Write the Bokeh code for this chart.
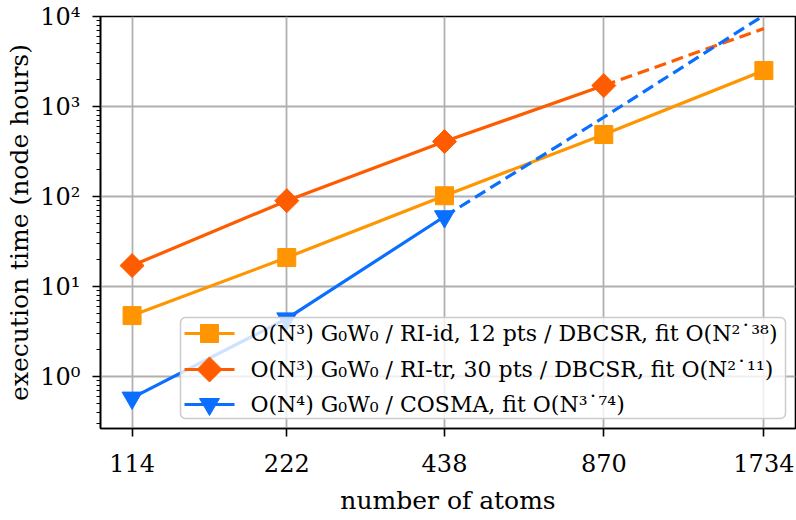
import math

from bokeh.plotting import figure
from bokeh.models import (Range1d, FixedTicker, BoxAnnotation, PolyAnnotation, Label)
from bokeh.embed import file_html
from bokeh.resources import INLINE

# Measured wall time (node hours) against system size (atoms)
atoms = [114, 222, 438, 870, 1734]
ri_id_hours = [4.76, 21.0, 102.0, 489.0, 2510.0]

ri_tr_atoms = [114, 222, 438, 870]
ri_tr_hours = [17.1, 90.0, 408.0, 1710.0]
ri_tr_fit_atoms = [870, 1734]
ri_tr_fit_hours = [1710.0, 7350.0]

cosma_atoms = [114, 222, 438]
cosma_hours = [0.58, 4.4, 60.0]
cosma_fit_atoms = [438, 870, 1734]
cosma_fit_hours = [60.0, 760.0, 10300.0]

x_tick_labels = ["114", "222", "438", "870", "1734"]
y_tick_values = [1, 10, 100, 1000, 10000]
y_tick_labels = ["10⁰", "10¹", "10²", "10³", "10⁴"]

labels = [
    "O(N³) G₀W₀ / RI-id, 12 pts / DBCSR, fit O(N²˙³⁸)",
    "O(N³) G₀W₀ / RI-tr, 30 pts / DBCSR, fit O(N²˙¹¹)",
    "O(N⁴) G₀W₀ / COSMA, fit O(N³˙⁷⁴)",
]

C_ID = "#ff9500"
C_TR = "#ff5c00"
C_CO = "#0a6fff"
FONT = "DejaVu Serif"

p = figure(
    width=796, height=520,
    x_axis_type="log", y_axis_type="log",
    x_range=Range1d(99.5, 1987), y_range=Range1d(0.265, 1e4),
    output_backend="svg", toolbar_location=None,
    min_border_left=100, min_border_right=1,
    min_border_top=16, min_border_bottom=92,
)
p.background_fill_color = "white"
p.border_fill_color = "white"
p.outline_line_color = "black"
p.outline_line_width = 1.6

# axes
minor_y = [m * 10.0 ** e for e in range(-1, 4) for m in range(2, 10)]
p.xaxis.ticker = FixedTicker(ticks=atoms, minor_ticks=[])
p.xaxis.major_label_overrides = {v: s for v, s in zip(atoms, x_tick_labels)}
p.yaxis.ticker = FixedTicker(ticks=y_tick_values, minor_ticks=minor_y)
p.yaxis.major_label_overrides = {v: s for v, s in zip(y_tick_values, y_tick_labels)}

p.xaxis.axis_label = "number of atoms"
p.yaxis.axis_label = "execution time (node hours)"
for ax in (p.xaxis, p.yaxis):
    ax.axis_label_text_font = FONT
    ax.axis_label_text_font_style = "normal"
    ax.axis_label_text_font_size = "25px"
    ax.axis_label_text_color = "black"
    ax.major_label_text_font = FONT
    ax.major_label_text_font_size = "24px"
    ax.major_label_text_color = "black"
    ax.axis_line_color = "black"
    ax.axis_line_width = 1.6
    ax.major_tick_line_color = "black"
    ax.major_tick_line_width = 1.6
    ax.minor_tick_line_color = "black"
    ax.minor_tick_line_width = 1.2
    ax.major_tick_in = 0
    ax.major_tick_out = 8
    ax.minor_tick_in = 0
    ax.minor_tick_out = 4
p.xaxis.major_label_standoff = 17
p.xaxis.axis_label_standoff = 11
p.yaxis.major_label_standoff = 12
p.yaxis.axis_label_standoff = 3

p.xgrid.ticker = FixedTicker(ticks=atoms)
p.ygrid.ticker = FixedTicker(ticks=y_tick_values)
for g in (p.xgrid, p.ygrid):
    g.grid_line_color = "#b0b0b0"
    g.grid_line_width = 1.8
    g.minor_grid_line_color = None

LW = 3.2
DASH = "12 6"

# RI-id series
p.line(atoms, ri_id_hours, line_color=C_ID, line_width=LW)
p.scatter(atoms, ri_id_hours, marker="square", size=18, fill_color=C_ID, line_color=C_ID)

# RI-tr series with extrapolated fit
p.line(ri_tr_atoms, ri_tr_hours, line_color=C_TR, line_width=LW)
p.line(ri_tr_fit_atoms, ri_tr_fit_hours, line_color=C_TR, line_width=LW, line_dash=DASH)
p.scatter(ri_tr_atoms, ri_tr_hours, marker="square", angle=math.pi / 4, size=17,
          fill_color=C_TR, line_color=C_TR)

# COSMA series with extrapolated fit
p.line(cosma_atoms, cosma_hours, line_color=C_CO, line_width=LW)
p.line(cosma_fit_atoms, cosma_fit_hours, line_color=C_CO, line_width=LW, line_dash=DASH)
p.scatter(cosma_atoms, cosma_hours, marker="inverted_triangle", size=20,
          fill_color=C_CO, line_color=C_CO)

# Legend, laid out in frame pixels (origin at the lower-left corner of the frame)
SCR = dict(xs_units="screen", ys_units="screen")
p.add_layout(BoxAnnotation(
    left=80, right=685, bottom=10, top=111,
    left_units="screen", right_units="screen", bottom_units="screen", top_units="screen",
    fill_color="white", fill_alpha=0.8,
    line_color="#cccccc", line_alpha=1, line_width=1.5, border_radius=5,
))

row_y = [95, 59, 24]
key_x0, key_x1 = 84, 134
key_cx = (key_x0 + key_x1) / 2
text_x = 150


def key_line(y, color):
    p.add_layout(PolyAnnotation(xs=[key_x0, key_x1], ys=[y, y], fill_alpha=0,
                                line_color=color, line_alpha=1, line_width=LW, **SCR))


def key_poly(xs, ys, color):
    p.add_layout(PolyAnnotation(xs=xs, ys=ys, fill_color=color, fill_alpha=1,
                                line_color=color, line_alpha=1, line_width=1, **SCR))


colors = [C_ID, C_TR, C_CO]
for y, c in zip(row_y, colors):
    key_line(y, c)

# square key
y = row_y[0]
key_poly([key_cx - 9, key_cx + 9, key_cx + 9, key_cx - 9], [y - 9, y - 9, y + 9, y + 9], C_ID)
# diamond key
y = row_y[1]
key_poly([key_cx - 12.5, key_cx, key_cx + 12.5, key_cx], [y, y + 12.5, y, y - 12.5], C_TR)
# downward triangle key
y = row_y[2]
key_poly([key_cx - 10, key_cx + 10, key_cx], [y + 6, y + 6, y - 11], C_CO)

for y, text in zip(row_y, labels):
    p.add_layout(Label(x=text_x, y=y, x_units="screen", y_units="screen", text=text,
                       text_baseline="middle", text_align="left",
                       text_font=FONT, text_font_size="22px", text_color="black"))

open("out.html", "w").write(file_html(p, INLINE))
